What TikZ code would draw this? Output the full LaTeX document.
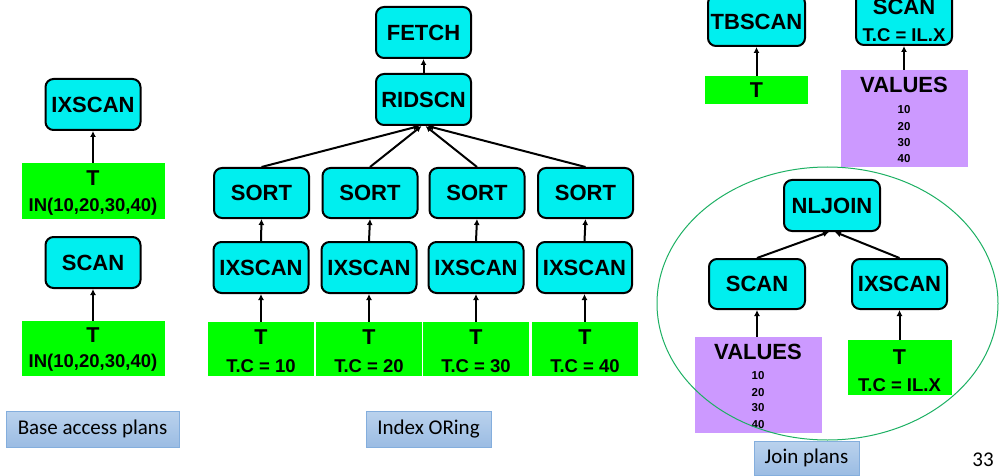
\documentclass[tikz,border=0pt]{standalone}
\usepackage{fontspec}
\setmainfont{Liberation Sans}
\newfontfamily\capfont{Carlito}
\usetikzlibrary{arrows.meta}

\definecolor{opcyan}{HTML}{00EFEF}
\definecolor{tgreen}{HTML}{00FF00}
\definecolor{vpurple}{HTML}{CC99FF}
\definecolor{ringgreen}{HTML}{1DB063}
\definecolor{capline}{HTML}{84AEDD}
\definecolor{capt}{HTML}{BAD2ED}
\definecolor{capb}{HTML}{9BBCE3}

\begin{document}
\begin{tikzpicture}[x=1pt,y=-1pt,
  op/.style={draw=black, line width=2pt, rounded corners=8pt, fill=opcyan,
    inner sep=0pt, minimum width=95pt, minimum height=51pt,
    font=\bfseries\fontsize{22}{24}\selectfont},
  tbl/.style={fill=tgreen, inner sep=0pt},
  vals/.style={fill=vpurple, inner sep=0pt},
  big/.style={font=\bfseries\fontsize{21.5}{24}\selectfont, inner sep=0pt},
  pred/.style={font=\bfseries\fontsize{18.5}{22}\selectfont, inner sep=0pt},
  num/.style={font=\bfseries\fontsize{11.5}{13}\selectfont, inner sep=0pt},
  arr/.style={line width=2pt, -{Latex[length=6pt,width=6pt]}},
  caption box/.style={draw=capline, line width=0.8pt, top color=capt, bottom color=capb,
    inner sep=0pt, font=\capfont\fontsize{21}{24}\selectfont},
]
\useasboundingbox (0,0) rectangle (999,476);

% ---------- Base access plans ----------
\node[op] (bix) at (93,104.5) {IXSCAN};
\node[tbl, minimum width=143pt, minimum height=56pt] (bt1) at (93.5,191) {};
\node[big] (bt1a) at (93,178) {T};
\node[pred] (bt1b) at (93,207) {IN(10,20,30,40)};
\node[op] (bsc) at (93,262.5) {SCAN};
\node[tbl, minimum width=143pt, minimum height=55pt] (bt2) at (93.5,348.5) {};
\node[big] (bt2a) at (93,335) {T};
\node[pred] (bt2b) at (93,363) {IN(10,20,30,40)};
\draw[arr] (bt1.north -| bix.south) -- (bix.south);
\draw[arr] (bt2.north -| bsc.south) -- (bsc.south);
\node[caption box, minimum width=173pt, minimum height=36pt] (capbase) at (92.5,429) {Base access plans};

% ---------- Index ORing ----------
\node[op] (fetch) at (423.5,32.5) {FETCH};
\node[op] (rid) at (423.5,99.5) {RIDSCN};
\draw[arr] (rid.north) -- (fetch.south);

\foreach \i/\sx/\ix/\gx/\v in {1/261.5/261/261/10, 2/370/369/369/20, 3/477/476/476/30, 4/585.5/584.5/585/40} {
  \node[op, minimum height=50pt] (sort\i) at (\sx,193) {SORT};
  \node[op] (oix\i) at (\ix,267.5) {IXSCAN};
  \node[tbl, minimum width=106pt, minimum height=54pt] (ot\i) at (\gx,349) {};
  \node[big] (ota\i) at (\gx,337) {T};
  \node[pred] (otb\i) at (\gx,366) {T.C = \v};
  \draw[arr] (ot\i.north -| oix\i.south) -- (oix\i.south);
  \draw[arr] (oix\i.north) -- (sort\i.south);
}
\draw[arr] (sort1.north) -- ([xshift=-4pt]rid.south);
\draw[arr] (sort2.north) -- ([xshift=-2pt]rid.south);
\draw[arr] (sort3.north) -- ([xshift=2pt]rid.south);
\draw[arr] (sort4.north) -- ([xshift=4pt]rid.south);
\node[caption box, minimum width=125pt, minimum height=36pt] (capor) at (428.5,429) {Index ORing};

% ---------- Join plans ----------
\node[op, minimum width=97pt] (tbscan) at (756.5,20.5) {};
\node[font=\bfseries\fontsize{22}{24}\selectfont, inner sep=0pt] (tbscant) at (756.5,22) {TBSCAN};
\node[tbl, minimum width=103pt, minimum height=28pt] (jt0) at (756.5,90) {};
\node[big] (jt0a) at (756.5,90) {T};
\draw[arr] (jt0.north) -- (tbscan.south);

\node[op, minimum width=96pt, minimum height=56pt] (jscan0) at (904,17) {};
\node[font=\bfseries\fontsize{22}{24}\selectfont, inner sep=0pt] (jscan0a) at (904,7) {SCAN};
\node[pred] (jscan0b) at (904,35) {T.C = IL.X};
\node[vals, minimum width=127pt, minimum height=97pt] (jv0) at (904.5,118.5) {};
\node[font=\bfseries\fontsize{22}{24}\selectfont, inner sep=0pt] (jv0a) at (904,85) {VALUES};
\node[num] (jv0n1) at (904,110) {10};
\node[num] (jv0n2) at (904,127) {20};
\node[num] (jv0n3) at (904,143) {30};
\node[num] (jv0n4) at (904,159) {40};
\draw[arr] (jv0.north -| jscan0.south) -- (jscan0.south);

\node[op, minimum width=96pt] (nl) at (832,205.5) {NLJOIN};
\node[op, minimum width=96pt, minimum height=50pt] (jsc) at (757,284) {SCAN};
\node[op, minimum width=95pt, minimum height=50pt] (jix) at (899.5,284) {IXSCAN};
\draw[arr] (jsc.north) -- ([xshift=-3pt]nl.south);
\draw[arr] (jix.north) -- ([xshift=3pt]nl.south);

\node[vals, minimum width=127pt, minimum height=96pt] (jv) at (758.5,385) {};
\node[font=\bfseries\fontsize{22}{24}\selectfont, inner sep=0pt] (jva) at (758,352) {VALUES};
\node[num] (jvn1) at (758,376) {10};
\node[num] (jvn2) at (758,393) {20};
\node[num] (jvn3) at (758,408) {30};
\node[num] (jvn4) at (758,425) {40};
\draw[arr] (jv.north -| jsc.south) -- (jsc.south);

\node[tbl, minimum width=104pt, minimum height=55pt] (jt) at (900,367.5) {};
\node[big] (jta) at (899.5,357) {T};
\node[pred] (jtb) at (899.5,385) {T.C = IL.X};
\draw[arr] (jt.north -| jix.south) -- (jix.south);

% grouping ring round the join plan
\draw[ringgreen, line width=1pt] (827.5,303.5) ellipse [x radius=170.5, y radius=136.5];

\node[caption box, minimum width=105pt, minimum height=34pt] (capjoin) at (806.5,458) {Join plans};
\node[font=\capfont\fontsize{21}{24}\selectfont, inner sep=0pt] (pagenum) at (983,460) {33};
\end{tikzpicture}
\end{document}
